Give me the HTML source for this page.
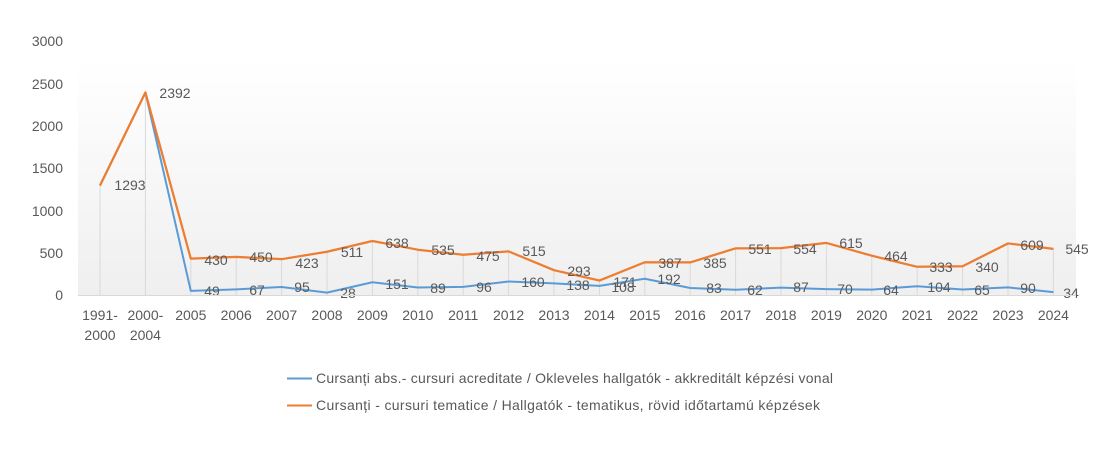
<!DOCTYPE html>
<html><head><meta charset="utf-8"><style>
html,body{margin:0;padding:0;background:#fff;}
svg text{font-family:"Liberation Sans",sans-serif;fill:#595959;font-size:14px;}
</style></head><body>
<svg width="1109" height="470" xmlns="http://www.w3.org/2000/svg">
<defs><linearGradient id="g" x1="0" y1="0" x2="0" y2="1">
<stop offset="0" stop-color="#ffffff"/><stop offset="1" stop-color="#efefef"/></linearGradient></defs>
<rect x="78" y="60" width="998" height="235" fill="url(#g)"/>
<g id="c"></g>
<line x1="78" y1="295.5" x2="1076" y2="295.5" stroke="#d9d9d9"/>
<g text-anchor="end">
<text x="63" y="46">3000</text><text x="63" y="89">2500</text><text x="63" y="131">2000</text>
<text x="63" y="173">1500</text><text x="63" y="216">1000</text><text x="63" y="258">500</text><text x="63" y="300">0</text>
</g>
<line x1="287" y1="378.5" x2="312" y2="378.5" stroke="#5b9bd5" stroke-width="2"/>
<text x="316" y="383" textLength="517">Cursanți abs.- cursuri acreditate / Okleveles hallgatók - akkreditált képzési vonal</text>
<line x1="287" y1="405.5" x2="312" y2="405.5" stroke="#ed7d31" stroke-width="2"/>
<text x="316" y="410" textLength="504">Cursanți - cursuri tematice / Hallgatók - tematikus, rövid időtartamú képzések</text>
</svg>
<script>
const ns="http://www.w3.org/2000/svg",g=document.getElementById('c');
const cats=["1991-|2000","2000-|2004","2005","2006","2007","2008","2009","2010","2011","2012","2013","2014","2015","2016","2017","2018","2019","2020","2021","2022","2023","2024"];
const o=[1293,2392,430,450,423,511,638,535,475,515,293,171,387,385,551,554,615,464,333,340,609,545];
const b=[1293,2392,49,67,95,28,151,89,96,160,138,108,192,83,62,87,70,64,104,65,90,34];
const ol=[[130,185],[175,93],[216,260],[261,257],[307,263],[352,252],[397,243],[443,250],[488,256],[534,251],[579,271],[625,282],[670,263],[715,263],[760,249],[805,249],[851,243],[896,256],[941,267],[987,267],[1032,245],[1077,249]];
const bl=[null,null,[212,291],[257,290],[302,287],[348,293],[397,284],[438,288],[484,287],[533,282],[578,285],[623,287],[669,279],[714,288],[755,290],[801,287],[845,289],[891,290],[939,287],[982,290],[1028,288],[1071,293]];
const X=i=>100+i*45.4, Y=v=>295-v*254/3000;
function el(t,a,txt){const e=document.createElementNS(ns,t);for(const k in a)e.setAttribute(k,a[k]);if(txt!=null)e.textContent=txt;g.appendChild(e);return e;}
o.forEach((v,i)=>el('line',{x1:X(i),x2:X(i),y1:Y(v),y2:295,stroke:'#d9d9d9','stroke-width':1}));
el('polyline',{points:b.map((v,i)=>X(i)+','+Y(v)).join(' '),fill:'none',stroke:'#5b9bd5','stroke-width':2,'stroke-linejoin':'round'});
el('polyline',{points:o.map((v,i)=>X(i)+','+Y(v)).join(' '),fill:'none',stroke:'#ed7d31','stroke-width':2.25,'stroke-linejoin':'round'});
o.forEach((v,i)=>el('text',{x:ol[i][0],y:ol[i][1]+5,'text-anchor':'middle'},v));
b.forEach((v,i)=>{if(bl[i])el('text',{x:bl[i][0],y:bl[i][1]+5,'text-anchor':'middle'},v);});
cats.forEach((c,i)=>{const p=c.split('|');p.forEach((s,j)=>el('text',{x:X(i),y:320+j*20,'text-anchor':'middle'},s));});
</script>
</body></html>
